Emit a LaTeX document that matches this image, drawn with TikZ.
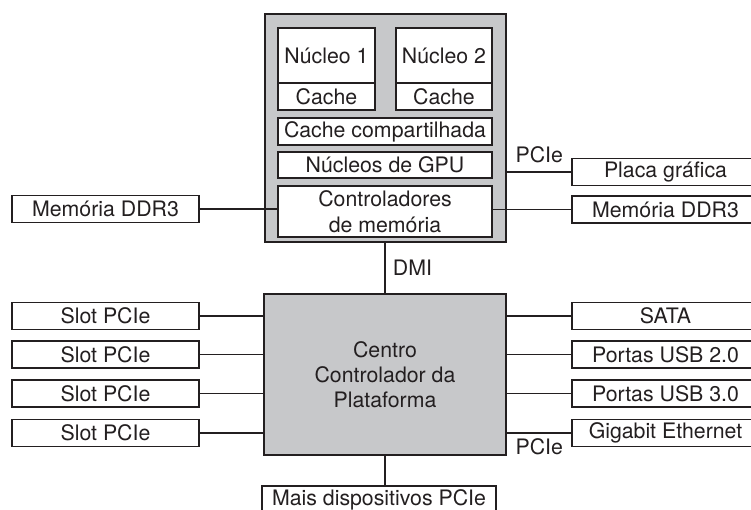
\documentclass[tikz,border=0pt]{standalone}
\usepackage{fontspec}
\setmainfont{TeX Gyre Heros}
\definecolor{chipgray}{RGB}{199,200,202}
\definecolor{ink}{RGB}{35,31,32}
\begin{document}
\begin{tikzpicture}[x=1pt, y=-1pt,
	every node/.style={font=\fontsize{21.3pt}{25pt}\selectfont, text=ink},
	box/.style={draw=ink, line width=1.9pt, fill=white, inner sep=0pt, minimum width=187pt, minimum height=27pt},
	inbox/.style={box, minimum width=214pt},
	chip/.style={draw=ink, line width=2.8pt, fill=chipgray, inner sep=0pt},
	link/.style={draw=ink, line width=1.9pt},
	buslabel/.style={inner sep=0pt}]
	\useasboundingbox (0, 0) rectangle (751, 509);
	\clip (0, 0) rectangle (751, 509);
	% processador
	\node[chip, minimum width=241pt, minimum height=228pt] (cpu) at (385.5, 128) {};
	\node[box, minimum width=97pt, minimum height=55pt] (core1) at (326.5, 55.5) {Núcleo 1};
	\node[box, minimum width=97pt] (cache1) at (326.5, 96.5) {Cache};
	\node[box, minimum width=96pt, minimum height=55pt] (core2) at (444, 55.5) {Núcleo 2};
	\node[box, minimum width=96pt] (cache2) at (444, 96.5) {Cache};
	\node[inbox] (shared) at (385, 131.5) {Cache compartilhada};
	\node[inbox, minimum height=26pt] (gpu) at (385, 165) {Núcleos de GPU};
	\node[inbox, minimum height=51pt, align=center, font=\fontsize{21.3pt}{26.5pt}\selectfont] (memctl) at (385, 211.5) {Controladores\\de memória};
	% memorias e placa grafica
	\node[box] (memL) at (105.5, 209) {Memória DDR3};
	\node[box] (gfx) at (665.5, 172) {Placa gráfica};
	\node[box] (memR) at (665.5, 209.5) {Memória DDR3};
	\draw[link] (memL.east) -- (memL.east -| memctl.west);
	\draw[link] (gfx.west -| cpu.east) -- (gfx.west) node[buslabel, midway, above=8pt] {PCIe};
	\draw[link] (memR.west -| memctl.east) -- (memR.west);
	% centro controlador
	\node[chip, minimum width=242pt, minimum height=161pt, align=center] (pch) at (385, 374.5) {Centro\\Controlador da\\Plataforma};
	\draw[link] (pch.north |- cpu.south) -- (pch.north) node[buslabel, midway, right=7pt] {DMI};
	\node[box] (slot1) at (105.5, 316) {Slot PCIe};
	\node[box] (slot2) at (105.5, 354.5) {Slot PCIe};
	\node[box] (slot3) at (105.5, 393.5) {Slot PCIe};
	\node[box] (slot4) at (105.5, 433) {Slot PCIe};
	\draw[link] (slot1.east) -- (slot1.east -| pch.west);
	\draw[link] (slot2.east) -- (slot2.east -| pch.west);
	\draw[link] (slot3.east) -- (slot3.east -| pch.west);
	\draw[link] (slot4.east) -- (slot4.east -| pch.west);
	\node[box] (sata) at (665.5, 316) {SATA};
	\node[box] (usb2) at (665.5, 354.5) {Portas USB 2.0};
	\node[box] (usb3) at (665.5, 393.5) {Portas USB 3.0};
	\node[box] (gbe) at (665.5, 433) {Gigabit Ethernet};
	\draw[link] (sata.west -| pch.east) -- (sata.west);
	\draw[link] (usb2.west -| pch.east) -- (usb2.west);
	\draw[link] (usb3.west -| pch.east) -- (usb3.west);
	\draw[link] (gbe.west -| pch.east) -- (gbe.west) node[buslabel, midway, below=5pt] {PCIe};
	\node[box, minimum width=234pt] (more) at (379, 499.5) {Mais dispositivos PCIe};
	\draw[link] (pch.south) -- (pch.south |- more.north);
\end{tikzpicture}
\end{document}
